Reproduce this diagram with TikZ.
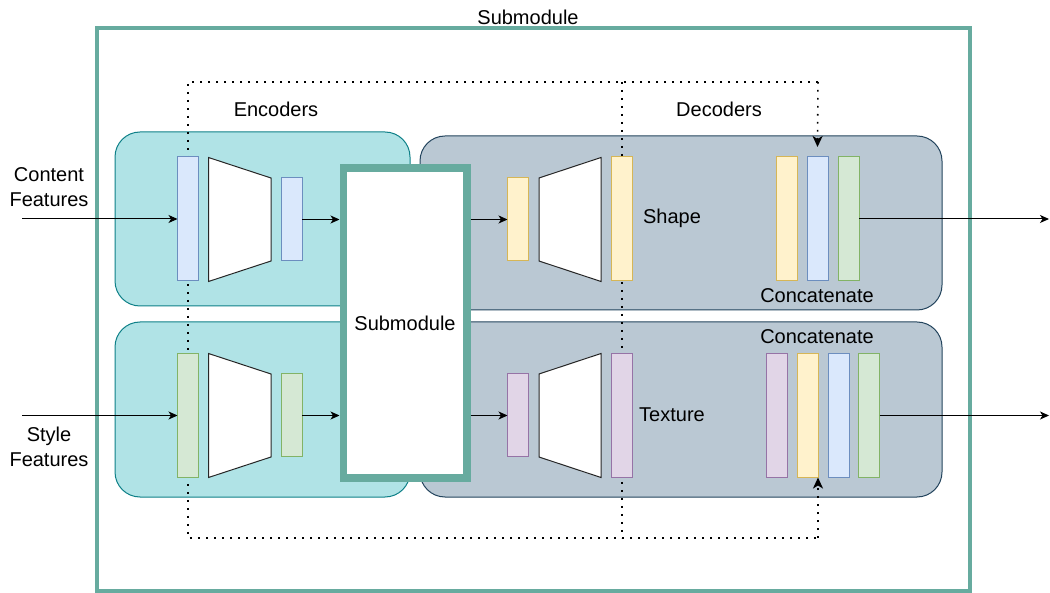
\documentclass[tikz,border=0pt]{standalone}
\usepackage{fontspec}
\setmainfont{Liberation Sans}
\usetikzlibrary{arrows.meta}
\definecolor{frameteal}{HTML}{67AB9F}
\definecolor{encfill}{HTML}{B0E3E6}
\definecolor{encdraw}{HTML}{0E8088}
\definecolor{decfill}{HTML}{BAC8D3}
\definecolor{decdraw}{HTML}{23445D}
\definecolor{bluef}{HTML}{DAE8FC}\definecolor{blued}{HTML}{6C8EBF}
\definecolor{greenf}{HTML}{D5E8D4}\definecolor{greend}{HTML}{82B366}
\definecolor{yellowf}{HTML}{FFF2CC}\definecolor{yellowd}{HTML}{D6B656}
\definecolor{purplef}{HTML}{E1D5E7}\definecolor{purpled}{HTML}{9673A6}
\begin{document}
\begin{tikzpicture}[x=1pt,y=-1pt,
  every node/.style={font=\fontsize{20}{25}\selectfont, inner sep=0pt, outer sep=0pt},
  bar/.style={line width=1pt, minimum width=21pt},
  tallbar/.style={bar, minimum height=124pt},
  shortbar/.style={bar, minimum height=83pt},
  bluebar/.style={fill=bluef, draw=blued},
  greenbar/.style={fill=greenf, draw=greend},
  yellowbar/.style={fill=yellowf, draw=yellowd},
  purplebar/.style={fill=purplef, draw=purpled},
  encbox/.style={fill=encfill, draw=encdraw, line width=1pt, rounded corners=25pt, minimum width=295pt},
  decbox/.style={fill=decfill, draw=decdraw, line width=1pt, rounded corners=25pt, minimum width=522pt},
  trap/.style={fill=white, draw=black!85, line width=1pt, line join=miter},
  flow/.style={-{Stealth[length=9pt,width=8pt,inset=2.5pt]}, line width=1pt},
  dotline/.style={line width=1.6pt, dash pattern=on 1.6pt off 6.4pt},
  dotarrow/.style={dotline, -{Stealth[length=11pt,width=10pt,inset=3pt]}},
]
\useasboundingbox (0,0) rectangle (1050,593);

% outer frame
\node[draw=frameteal, line width=4pt, minimum width=873pt, minimum height=563pt] (frame) at (533.5,309.5) {};
\node (title) at (528,17) {Submodule};

% encoder / decoder boxes
\node[encbox, minimum height=174pt] (encT) at (262.5,219) {};
\node[encbox, minimum height=175pt] (encB) at (262.5,409.5) {};
\node[decbox, minimum height=174pt] (decT) at (681,223) {};
\node[decbox, minimum height=175pt] (decB) at (681,409.5) {};

% dotted guide lines
\coordinate (dTL) at (188,82);
\coordinate (dTR) at (818,82);
\coordinate (dBL) at (188,538);
\coordinate (dBR) at (818,538);
\coordinate (dTM) at (622,82);
\coordinate (dBM) at (622,538);
\draw[dotline] (dTR) -- (dTL) -- (dBL) -- (dBR);
\draw[dotline] (dTM) -- (dBM);

% submodule box
\node[draw=frameteal, fill=white, line width=7.5pt, outer sep=3.75pt,
      minimum width=123.5pt, minimum height=310pt] (sub) at (405,323) {Submodule};

% encoder bars
\node[tallbar, bluebar] (eb1) at (188,219) {};
\node[shortbar, bluebar] (eb2) at (291.5,219.5) {};
\node[tallbar, greenbar] (eg1) at (188,415.5) {};
\node[shortbar, greenbar] (eg2) at (291.5,415.5) {};
\draw[trap] (208.5,157.5) -- (271,178) -- (271,261) -- (208.5,281.5) -- cycle;
\draw[trap] (208.5,353.5) -- (271,374) -- (271,457) -- (208.5,477.5) -- cycle;

% decoder bars
\node[shortbar, yellowbar] (dy1) at (518,219.5) {};
\node[tallbar, yellowbar] (dy2) at (622,219) {};
\node[shortbar, purplebar] (dp1) at (518,415.5) {};
\node[tallbar, purplebar] (dp2) at (622,415.5) {};
\draw[trap] (539,178) -- (601,157.5) -- (601,281.5) -- (539,261) -- cycle;
\draw[trap] (539,374) -- (601,353.5) -- (601,477.5) -- (539,457) -- cycle;

% concatenation bars
\node[tallbar, yellowbar] (cy1) at (786.5,219) {};
\node[tallbar, bluebar]   (cb1) at (817.5,219) {};
\node[tallbar, greenbar]  (cg1) at (848.5,219) {};
\node[tallbar, purplebar] (cp2) at (776.5,415.5) {};
\node[tallbar, yellowbar] (cy2) at (807.5,415.5) {};
\node[tallbar, bluebar]   (cb2) at (838.5,415.5) {};
\node[tallbar, greenbar]  (cg2) at (869,415.5) {};

% dotted arrows into concatenations
\draw[dotarrow] (dTR) -- ([yshift=10pt]cb1.north);
\draw[dotarrow] (dBR) -- (cy2.south east);

% inputs / outputs
\coordinate (inC) at (22,219);
\coordinate (inS) at (22,415.5);
\coordinate (outT) at (1049,219);
\coordinate (outB) at (1049,415.5);
\draw[flow] (inC) -- (eb1.west);
\draw[flow] (inS) -- (eg1.west);
\draw[flow] (eb2.east) -- (sub.west |- eb2.east);
\draw[flow] (eg2.east) -- (sub.west |- eg2.east);
\draw[flow] (sub.east |- dy1.west) -- (dy1.west);
\draw[flow] (sub.east |- dp1.west) -- (dp1.west);
\draw[flow] (cg1.east) -- (outT);
\draw[flow] (cg2.east) -- (outB);

% labels
\node[align=center] (lblC) at (49,187.5) {Content\\Features};
\node[align=center] (lblS) at (49,447) {Style\\Features};
\node (lblEnc) at (276,109) {Encoders};
\node (lblDec) at (719,109) {Decoders};
\node (lblShape) at (672,218) {Shape};
\node (lblTex) at (672,415) {Texture};
\node (lblCT) at (817,296) {Concatenate};
\node (lblCB) at (817,337) {Concatenate};
\end{tikzpicture}
\end{document}
